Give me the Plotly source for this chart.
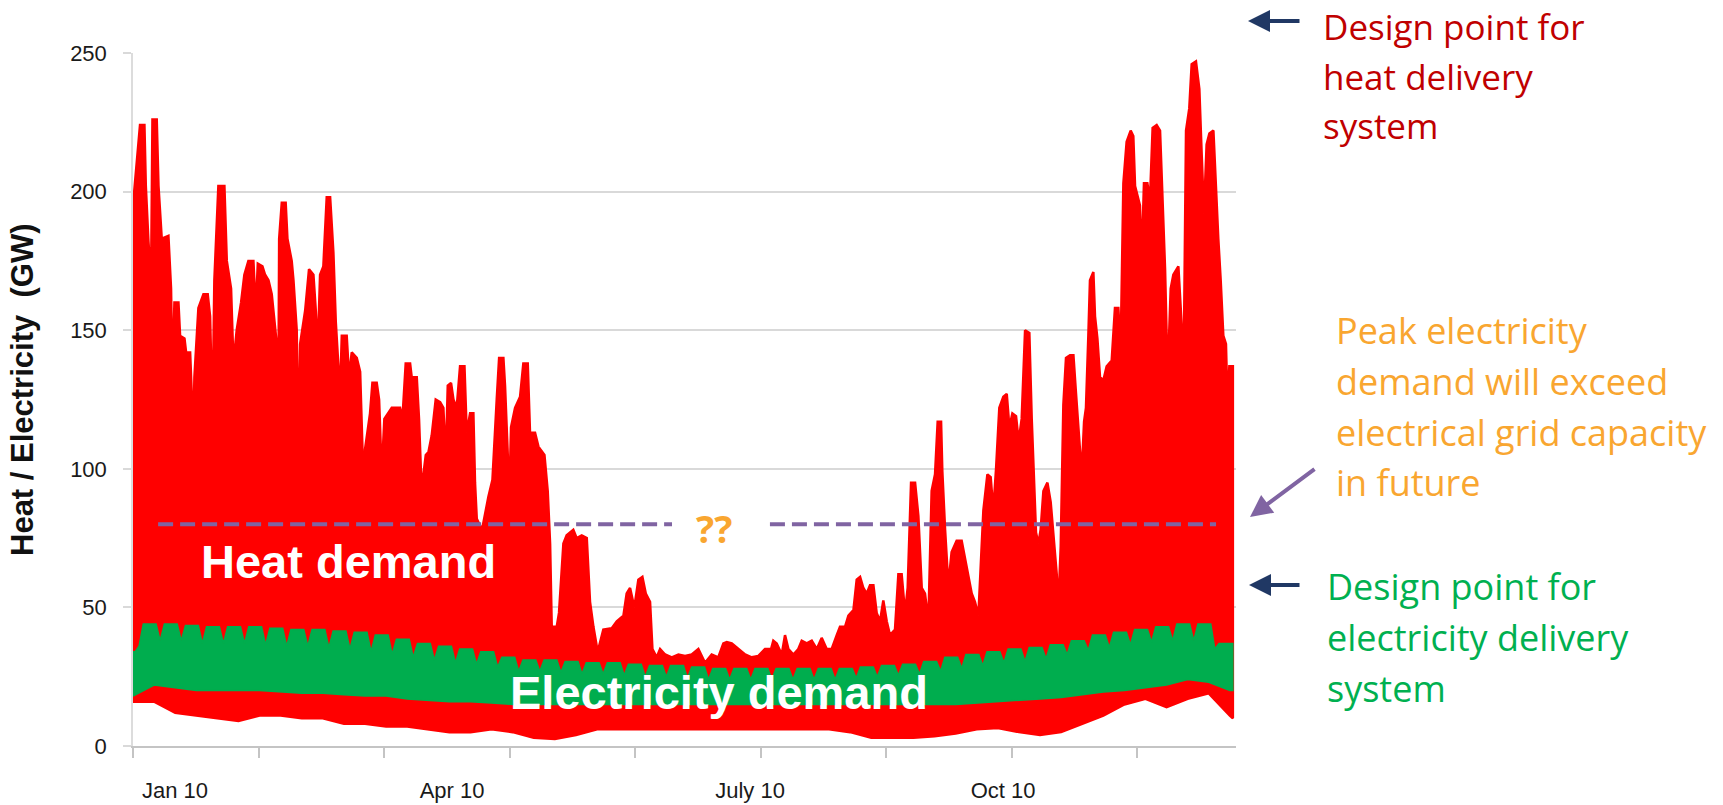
import plotly.graph_objects as go

# ---- data (hour of 2010 -> GW) ----
heat_peak_hours = [
    0, 30, 56, 91, 102, 123, 144, 155, 189, 203, 229, 282, 303, 314, 330, 362, 375, 410, 423, 455,
    468, 481, 489, 521, 561, 595, 614, 633, 648, 680, 728, 747, 781, 800, 826, 861, 887, 919, 959, 978,
    994, 1031, 1052, 1079, 1105, 1145, 1158, 1164, 1185, 1216, 1230, 1264, 1278, 1304, 1317, 1331, 1371, 1402, 1437, 1456,
    1471, 1490, 1516, 1543, 1570, 1596, 1615, 1649, 1663, 1702, 1721, 1742, 1782, 1809, 1827, 1835, 1848, 1888, 1907, 1941,
    1960, 1981, 2002, 2034, 2061, 2127, 2146, 2172, 2207, 2220, 2260, 2278, 2294, 2313, 2332, 2353, 2379, 2411, 2446, 2472,
    2491, 2507, 2533, 2552, 2578, 2605, 2640, 2658, 2685, 2711, 2724, 2738, 2780, 2831, 2863, 2897, 2916, 2950, 2963, 2985,
    2995, 3011, 3043, 3083, 3109, 3144, 3162, 3202, 3229, 3277, 3303, 3322, 3335, 3375, 3393, 3428, 3454, 3507, 3534, 3574,
    3614, 3640, 3667, 3701, 3746, 3813, 3853, 3906, 3932, 3959, 3993, 4025, 4057, 4084, 4118, 4137, 4171, 4198, 4238, 4291,
    4344, 4397, 4450, 4503, 4556, 4609, 4662, 4702, 4729, 4769, 4822, 4875, 4928, 4981, 5034, 5082, 5100, 5127, 5167, 5193,
    5220, 5260, 5299, 5326, 5366, 5406, 5446, 5485, 5525, 5565, 5605, 5631, 5671, 5698, 5738, 5764, 5791, 5817, 5844, 5870,
    5897, 5923, 5950, 5976, 6003, 6029, 6069, 6096, 6122, 6149, 6170, 6197, 6229, 6255, 6282, 6308, 6335, 6361, 6388, 6409,
    6436, 6446, 6468, 6494, 6520, 6560, 6600, 6627, 6653, 6680, 6706, 6733, 6752, 6773, 6805, 6831, 6852, 6874, 6900, 6932,
    6959, 6980, 7004, 7033, 7054, 7078, 7105, 7139, 7158, 7171, 7192, 7211, 7229, 7251, 7283, 7309, 7330, 7357, 7370, 7389,
    7410, 7431, 7463, 7490, 7511, 7537, 7556, 7575, 7590, 7609, 7622, 7649, 7662, 7681, 7702, 7729, 7755, 7795, 7821, 7848,
    7866, 7888, 7914, 7946, 7967, 7981, 8007, 8020, 8034, 8052, 8079, 8100, 8121, 8153, 8180, 8201, 8220, 8233, 8246, 8265,
    8286, 8326, 8352, 8366, 8387, 8413, 8432, 8466, 8493, 8512, 8530, 8551, 8573, 8605, 8626, 8644, 8663, 8684, 8705, 8718,
    8732, 8760,
]
heat_peak_gw = [
    195, 210, 224, 224, 202, 182, 168, 226, 226, 202, 183, 184, 165, 132, 160, 160, 148, 147, 142, 142,
    128, 112, 133, 158, 163, 163, 155, 118, 168, 202, 202, 175, 165, 138, 150, 160, 170, 175, 175, 157,
    174, 173, 170, 168, 163, 145, 123, 183, 196, 196, 183, 175, 168, 150, 105, 145, 157, 172, 170, 157,
    142, 170, 173, 198, 198, 178, 153, 127, 148, 148, 133, 142, 140, 135, 108, 88, 107, 120, 131, 131,
    125, 98, 118, 120, 122, 122, 118, 138, 138, 133, 133, 118, 98, 98, 105, 106, 112, 125, 124, 122,
    103, 130, 131, 125, 122, 137, 137, 113, 120, 120, 95, 82, 78, 90, 96, 125, 140, 140, 130, 105,
    85, 115, 122, 126, 138, 138, 113, 113, 108, 105, 92, 73, 43, 43, 48, 73, 76, 78, 75, 76,
    75, 52, 43, 34, 42, 42.5, 45, 47, 55, 57, 50, 60, 61, 55, 52, 35, 32, 35, 33, 32,
    33, 32.5, 33, 35, 30, 33, 32, 37, 37.5, 37, 35, 33, 32, 32.5, 35, 35, 38, 37, 33, 40,
    35, 33, 35, 38, 37, 38, 35, 39, 35, 35, 40, 43, 43, 47, 49, 60, 61, 57, 55, 58,
    58, 48, 45, 52.5, 45, 40, 42, 62, 62, 48, 57, 95, 95, 83, 57, 55, 45, 92, 98, 117,
    117, 99, 78, 58, 70, 74, 74, 68, 62, 55, 52, 47, 65, 85, 98, 97, 85, 100, 122, 126,
    127, 115, 120, 119, 110, 118, 150, 149, 118, 102, 77, 73, 78, 92, 95, 88, 75, 62, 50, 72,
    123, 140, 141, 141, 127, 110, 98, 117, 122, 148, 168, 171, 155, 147, 133, 132, 137, 139, 158, 158,
    142, 203, 218, 222, 220, 202, 197, 195, 175, 203, 203, 197, 223, 224, 222, 198, 172, 147, 140, 165,
    170, 173, 152, 127, 222, 230, 246, 247, 237, 213, 192, 217, 221, 222, 198, 183, 168, 148, 145, 122,
    137, 137,
]

# weekly samples (every 168 h from 1 Jan, last point = 31 Dec 24:00)
week_hours = list(range(0, 8761, 168)) + [8760]
heat_base_gw = [
    16, 16, 12, 11, 10, 9, 11, 11, 10, 10, 8, 8, 7, 7, 6, 5, 5, 6, 5, 3,
    2.5, 4, 6, 6, 6, 6, 6, 6, 6, 6, 6, 6, 6, 6, 5, 3, 3, 3, 3.5, 4.5,
    6, 6.5, 5, 4, 5, 8, 11, 15, 17, 14, 17, 19, 11, 10,
]
elec_base_gw = [
    18, 22, 21, 20, 20, 20, 20, 19.5, 19, 19, 18.5, 18, 18, 17, 16.5, 16, 16, 15.5, 15, 15,
    15, 15, 15, 15, 15, 15, 15, 15, 15, 15, 15, 15, 15, 15, 15, 15, 15, 15, 15, 15,
    15.5, 16, 16.5, 17, 17.5, 18.5, 19.5, 20, 21, 22, 24, 23, 20, 20,
]

# electricity daily peaks: working-week level (Mon-Fri blocks) and weekend level
elec_workweek_gw = [
    44, 44, 43.5, 43, 43, 43, 42.5, 42, 42, 41.5, 41, 40, 38.5, 37, 36, 35, 34, 32, 31, 31,
    30.5, 30, 30, 29.5, 29, 29, 28.5, 28, 28, 28, 28, 28, 28, 28, 28.5, 29, 29.5, 30.5, 32, 33,
    34, 35, 35.5, 36.5, 38, 40, 41, 42, 43, 44, 44, 37,
]
elec_weekend_gw = [
    36, 38, 38, 37, 37, 37, 36.5, 36, 36, 35.5, 35, 34, 33, 32, 31, 30, 29.5, 28.5, 27, 27,
    26.5, 26, 26, 25.5, 25, 25, 24.5, 24, 24, 24, 24, 24, 24, 24, 24.5, 25, 25.5, 26, 27, 28,
    29, 30, 30.5, 31.5, 33, 34.5, 35.5, 36.5, 37.5, 38, 38, 35,
]
elec_jan1_gw = 34

x_labels = ["Jan 10", "Apr 10", "July 10", "Oct 10"]
x_label_hours = [335, 2541, 4915, 6930]
grid_limit_gw = 80

# ---- build the outlines ----
heat_x = heat_peak_hours + week_hours[::-1]
heat_y = heat_peak_gw + heat_base_gw[::-1]

# working-week plateaus with a notch at each weekend (Mondays start at hour 72 + 168k)
elec_top_x = [0, 18, 48]
elec_top_y = [elec_jan1_gw, elec_jan1_gw, elec_weekend_gw[0]]
for k, peak in enumerate(elec_workweek_gw):
    start = 72 + 168 * k
    elec_top_x += [start + 10, start + 112]
    elec_top_y += [peak, peak]
    if k + 1 < len(elec_weekend_gw):
        elec_top_x += [start + 144]
        elec_top_y += [elec_weekend_gw[k + 1]]
elec_top_x = [min(h, 8760) for h in elec_top_x] + [8760]
elec_top_y = elec_top_y + [elec_workweek_gw[-1]]
elec_x = elec_top_x + week_hours[::-1]
elec_y = elec_top_y + elec_base_gw[::-1]

RED = "#ff0000"
GREEN = "#00ad4e"
W, H = 1723, 805
L, R, T, B = 133, 487, 53, 59


def px(x):
    return (x - L) / (W - L - R)


def py(y):
    return (H - B - y) / (H - T - B)


fig = go.Figure()
fig.add_trace(go.Scatter(x=heat_x, y=heat_y, fill="toself", fillcolor=RED, mode="lines",
                         line=dict(color=RED, width=2.5), hoverinfo="skip", showlegend=False))
fig.add_trace(go.Scatter(x=elec_x, y=elec_y, fill="toself", fillcolor=GREEN, mode="lines",
                         line=dict(color=GREEN, width=1.5), hoverinfo="skip", showlegend=False))

# dashed grid-capacity line, broken around the "??"
for seg in ([200, 4293], [5073, 8626]):
    fig.add_trace(go.Scatter(x=seg, y=[grid_limit_gw] * 2, mode="lines",
                             line=dict(color="#8064a2", width=4, dash="15px,7px"),
                             hoverinfo="skip", showlegend=False))

ann = []


def text(x, y, s, color, size, family="Open Sans", bold=False, anchor="left", angle=0):
    ann.append(dict(x=px(x), y=py(y), xref="paper", yref="paper", text=f"<b>{s}</b>" if bold else s,
                    showarrow=False, xanchor=anchor, yanchor="middle", textangle=angle,
                    font=dict(family=family, size=size, color=color)))


def arrow(x0, y0, x1, y1, color):
    ann.append(dict(x=px(x1), y=py(y1), xref="paper", yref="paper", ax=x0 - x1, ay=y0 - y1,
                    text="", showarrow=True, arrowhead=2, arrowsize=1.1, arrowwidth=4,
                    arrowcolor=color))


text(22, 390, "Heat / Electricity  (GW)", "#111111", 31, "Liberation Sans", True, "center", -90)
text(348, 561, "Heat demand", "white", 47, "Liberation Sans", True, "center")
text(719, 692, "Electricity demand", "white", 47, "Liberation Sans", True, "center")
text(714, 528, "??", "#f9a630", 38, "Open Sans", True, "center")

for i, s in enumerate(["Design point for", "heat delivery", "system"]):
    text(1321, 26 + 50 * i, s, "#c00000", 35)
for i, s in enumerate(["Peak electricity", "demand will exceed", "electrical grid capacity", "in future"]):
    text(1334, 330 + 51 * i, s, "#f9a630", 36)
for i, s in enumerate(["Design point for", "electricity delivery", "system"]):
    text(1325, 586 + 51 * i, s, "#00b050", 36)

arrow(1301, 21, 1248, 21, "#203864")
arrow(1301, 585, 1249, 585, "#203864")
arrow(1316, 468, 1250, 517, "#8064a2")

fig.update_layout(
    width=W, height=H, margin=dict(l=L, r=R, t=T, b=B, autoexpand=False),
    plot_bgcolor="white", paper_bgcolor="white",
    font=dict(family="Liberation Sans", color="#1a1a1a"),
    annotations=ann,
    xaxis=dict(
        range=[0, 8785], showgrid=False, zeroline=False, automargin=False,
        showline=True, linecolor="#c4c4c4", linewidth=2,
        tickmode="array", tickvals=x_label_hours, ticktext=x_labels, ticks="",
        ticklabelstandoff=24, tickfont=dict(size=22),
        minor=dict(tickmode="array", tickvals=list(range(0, 8761, 1000)), ticks="outside",
                   ticklen=10, tickwidth=2, tickcolor="#c4c4c4", showgrid=False),
    ),
    yaxis=dict(
        range=[0, 250], dtick=50, showgrid=True, gridcolor="#d9d9d9", gridwidth=2,
        zeroline=False, showline=True, linecolor="#dcdcdc", linewidth=1.5, automargin=False,
        ticks="outside", ticklen=8, tickcolor="#d9d9d9", tickwidth=2,
        ticklabelstandoff=12, tickfont=dict(size=22),
    ),
)

fig.write_html("out.html", config={"displayModeBar": False},
               post_script="document.body.style.margin='0';")
